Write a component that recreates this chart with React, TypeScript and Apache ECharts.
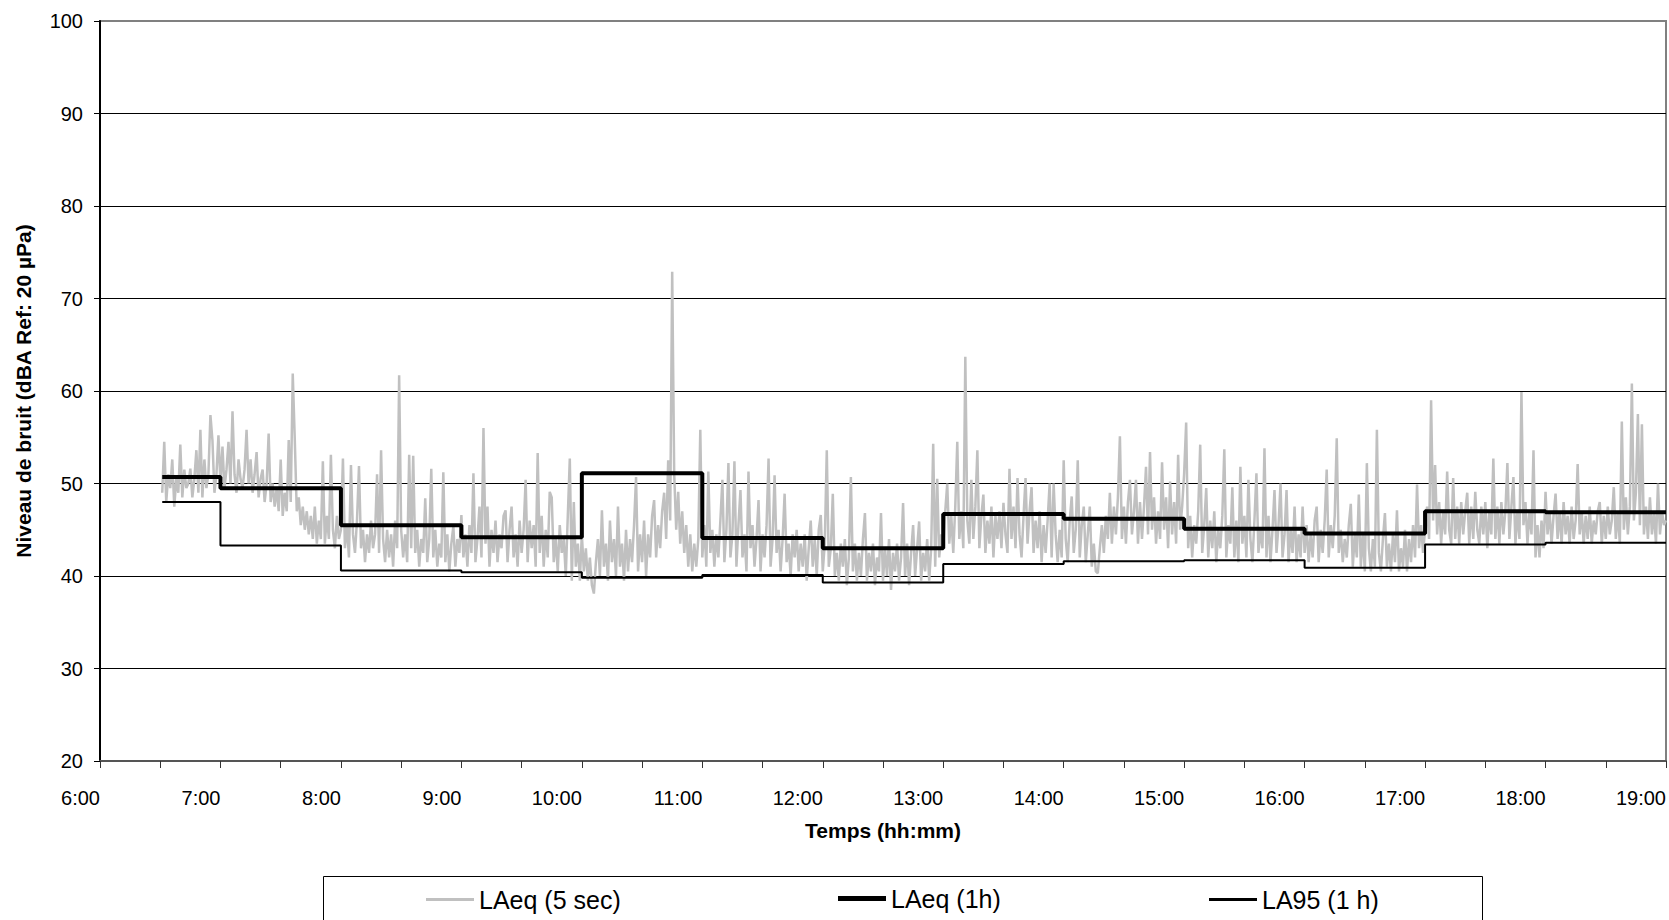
import React, { useEffect, useRef } from "react";
import * as echarts from "echarts";

// x values are minutes since midnight
const hourLabels = ["6:00", "7:00", "8:00", "9:00", "10:00", "11:00", "12:00", "13:00", "14:00", "15:00", "16:00", "17:00", "18:00", "19:00"];

// LAeq (5 sec) trace, one value per minute, grouped by hour
const g0630 = [49.0,54.5,48.0,51.0,49.5,52.6,47.5,50.5,49.0,54.2,48.5,51.5,49.5,50.0,51.6,48.5,50.5,53.6,49.0,55.8,48.5,52.6,49.5,51.0,57.4,54.7,49.0,51.0,55.2];
const g07 = [50.0,54.0,49.5,51.5,54.5,50.0,57.8,51.0,49.0,52.6,
  50.5,49.5,51.5,55.8,50.0,52.6,49.0,51.0,53.4,48.5,
  50.5,51.5,48.0,50.0,55.4,48.0,50.0,47.5,49.5,47.0,
  52.6,46.5,49.0,47.0,54.7,48.0,61.9,54.9,47.0,48.5,
  45.5,47.5,45.0,47.0,44.5,46.5,44.0,47.5,43.5,46.0,
  44.0,52.4,43.5,46.5,44.0,53.1,45.0,43.0,46.5,44.0];
const g08 = [45.0,52.7,43.0,45.5,42.0,52.0,44.5,42.5,46.0,51.9,
  43.0,45.0,41.5,44.5,42.5,46.0,43.0,44.5,51.0,42.5,
  53.6,44.0,41.5,45.0,42.0,44.5,41.0,46.0,43.0,61.7,
  45.0,42.0,44.5,41.5,53.1,43.0,53.0,42.5,45.0,41.0,
  44.0,42.5,48.4,41.5,44.0,51.6,42.0,45.0,41.0,43.5,
  42.0,51.2,41.5,44.5,40.5,43.5,45.4,41.0,44.0,42.5];
const g09 = [46.6,42.0,44.5,41.0,45.5,42.5,51.1,41.5,44.0,47.5,
  42.0,56.0,43.5,47.5,41.0,45.0,42.5,46.0,41.5,44.5,
  43.0,46.5,47.1,41.5,45.0,47.5,42.0,44.5,41.0,46.0,
  42.5,45.0,50.4,41.5,46.0,43.0,45.5,41.0,53.3,42.5,
  46.5,41.0,45.0,42.0,49.1,48.5,41.5,44.0,40.5,45.5,
  42.5,44.0,40.0,46.5,52.7,39.5,48.0,41.0,43.5,39.5];
const g10 = [44.5,40.5,43.0,39.5,42.0,39.0,38.1,41.5,44.0,40.0,
  47.1,41.0,43.5,39.5,46.0,41.5,44.0,40.0,47.5,41.0,
  43.5,39.5,45.0,40.5,44.0,41.5,45.5,50.7,40.5,44.5,
  41.5,46.0,40.0,44.5,42.0,46.5,48.2,42.0,45.5,43.0,
  47.0,49.0,44.0,52.5,46.0,72.9,51.0,45.0,49.1,43.5,
  47.0,42.5,45.5,41.0,44.5,40.5,43.5,41.0,44.0,55.8];
const g11 = [42.0,45.5,41.0,51.3,42.5,45.0,41.0,44.5,42.0,46.0,
  50.4,41.5,45.0,52.2,42.0,44.5,52.4,41.0,45.5,49.3,
  42.0,44.5,40.5,51.3,43.0,45.5,41.0,44.0,48.2,40.5,
  44.5,42.0,45.5,52.7,41.0,44.0,50.9,42.5,45.0,40.5,
  44.0,48.9,41.5,43.5,40.0,44.5,42.0,45.0,40.5,43.5,
  41.0,44.5,39.5,43.0,46.0,41.0,44.0,40.0,45.0,46.6];
const g12 = [40.5,43.5,53.6,41.0,43.0,48.9,40.0,42.5,39.5,43.5,
  41.0,44.0,39.0,42.0,50.7,40.5,43.5,39.5,42.5,40.0,
  44.0,46.8,39.5,42.5,40.5,43.5,39.0,42.0,40.5,46.8,
  39.5,43.0,40.0,44.0,38.5,42.5,40.5,43.5,39.5,42.0,
  47.9,40.0,43.5,39.0,42.5,45.5,40.0,43.0,45.9,39.5,
  42.5,40.5,44.0,39.5,43.0,54.3,41.0,50.5,42.0,44.5];
const g13 = [43.0,47.0,50.0,43.5,46.5,42.5,47.5,54.5,44.0,47.0,
  43.0,63.7,46.0,43.5,50.4,44.0,47.5,53.6,43.0,46.5,
  48.8,42.5,46.0,43.5,47.5,42.0,46.5,44.0,47.0,43.0,
  47.9,44.5,42.5,51.6,44.0,47.5,43.0,50.6,44.5,42.0,
  46.5,50.6,43.5,47.0,49.6,42.5,46.0,43.0,47.0,41.5,
  45.5,42.5,46.0,50.0,42.0,50.0,44.5,41.5,45.0,42.0];
const g14 = [52.5,44.0,41.5,46.0,48.6,42.5,45.0,52.5,42.0,45.5,
  47.5,41.5,44.5,47.5,41.0,43.5,40.5,40.3,43.0,45.5,
  42.5,46.5,44.0,49.0,43.5,47.5,44.5,48.5,55.1,44.0,
  47.5,43.5,48.0,50.4,44.5,47.0,50.4,43.5,48.0,44.0,
  47.5,51.8,44.5,53.4,45.0,48.5,43.5,47.0,44.0,52.3,
  45.0,48.5,43.0,50.2,44.5,48.0,43.5,53.1,45.0,47.5];
const g15 = [51.1,56.6,43.0,46.5,42.0,45.5,43.5,47.0,54.2,42.5,
  45.5,49.5,42.0,46.0,43.0,47.0,41.5,45.0,43.0,46.5,
  53.7,42.0,45.5,43.5,49.6,42.0,46.0,41.5,51.8,43.5,
  46.5,42.0,50.4,44.0,41.5,46.0,51.1,42.5,45.0,43.0,
  53.8,42.0,46.5,41.5,45.0,49.3,42.5,45.5,50.0,42.0,
  44.5,49.3,41.5,45.0,42.5,47.5,41.5,44.5,42.0,47.5];
const g16 = [42.5,45.5,41.5,44.5,42.0,46.0,47.5,41.5,45.0,42.5,
  46.0,51.5,42.0,45.5,43.0,46.5,54.9,42.5,45.0,41.5,
  44.0,42.0,45.5,47.8,41.0,44.5,42.0,48.8,41.0,44.5,
  40.5,52.2,43.0,40.5,44.0,41.0,55.8,42.5,40.5,44.0,
  46.8,41.0,43.5,40.5,44.5,41.5,47.1,40.5,43.0,41.0,
  45.0,40.5,44.0,41.5,45.5,42.0,49.9,43.0,45.5,42.5];
const g17 = [45.0,47.5,44.0,59.0,46.0,52.0,44.5,48.0,43.5,47.0,
  44.5,51.3,45.0,43.5,50.6,44.0,47.5,43.5,48.0,44.5,
  47.0,49.0,43.5,47.5,44.0,49.1,45.0,43.5,47.5,44.5,
  48.0,43.0,47.0,44.5,52.7,44.0,47.5,43.5,48.0,44.5,
  47.0,52.2,44.0,47.5,50.7,43.5,47.0,44.0,59.9,45.5,
  48.0,43.5,47.0,44.5,53.6,42.0,45.5,42.0,46.0,43.0];
const g18 = [49.1,44.5,47.0,43.5,46.5,48.9,44.0,47.0,43.5,48.0,
  44.5,46.5,43.5,47.5,44.0,46.0,52.1,44.5,47.0,43.5,
  46.5,44.0,47.5,43.5,46.0,44.5,47.0,48.0,43.5,46.5,
  44.0,47.5,44.5,46.0,49.6,44.0,47.0,43.5,56.7,45.0,
  48.5,44.5,47.5,60.8,46.0,49.0,57.5,45.5,56.4,44.5,
  47.5,44.0,48.5,44.5,47.0,43.5,50.0,44.5,47.0,45.5,46.0];

const segmentStarts = [391, 420, 480, 540, 600, 660, 720, 780, 840, 900, 960, 1020, 1080];
const segmentValues = [g0630, g07, g08, g09, g10, g11, g12, g13, g14, g15, g16, g17, g18];

// hourly values (start of each period, minutes)
const periodStarts = [391, 420, 480, 540, 600, 660, 720, 780, 840, 900, 960, 1020, 1080];
const periodEnd = 1140;
const laeq1h = [50.7, 49.5, 45.5, 44.2, 51.1, 44.1, 43.0, 46.7, 46.2, 45.1, 44.6, 47.0, 46.9];
const la95 = [48.0, 43.3, 40.6, 40.4, 39.8, 40.1, 39.3, 41.3, 41.6, 41.7, 40.9, 43.4, 43.6];

const seriesNames = ["LAeq (5 sec)", "LAeq (1h)", "LA95 (1 h)"];

const FONT = "'Liberation Sans', Arial, Helvetica, sans-serif";

function stepData(vals: number[]) {
  const d = periodStarts.map((t, i) => [t, vals[i]]);
  d.push([periodEnd, vals[vals.length - 1]]);
  return d;
}

export default function App() {
  const ref = useRef<HTMLDivElement>(null);
  useEffect(() => {
    if (!ref.current) return;
    const chart = echarts.init(ref.current, null, { renderer: "svg" });
    const greyData: number[][] = [];
    segmentValues.forEach((vals, s) => {
      vals.forEach((v, i) => greyData.push([segmentStarts[s] + i, v]));
    });
    const legendBase = {
      top: 886,
      padding: 0,
      itemWidth: 48,
      icon: "rect",
      selectedMode: false,
      textStyle: { fontFamily: FONT, fontSize: 25, color: "#000" },
    };
    chart.setOption({
      animation: false,
      backgroundColor: "#fff",
      textStyle: { fontFamily: FONT },
      grid: {
        left: 100,
        right: 2,
        top: 21,
        bottom: 159,
        show: true,
        borderColor: "#808080",
        borderWidth: 2,
        backgroundColor: "transparent",
      },
      xAxis: {
        type: "value",
        min: 360,
        max: 1140,
        interval: 30,
        name: "Temps (hh:mm)",
        nameLocation: "middle",
        nameGap: 59,
        nameTextStyle: { fontFamily: FONT, fontSize: 21, fontWeight: "bold", color: "#000" },
        axisLine: { show: true, onZero: false, lineStyle: { color: "#555", width: 2 } },
        axisTick: { show: true, length: 7, lineStyle: { color: "#333", width: 1 } },
        splitLine: { show: false },
        axisLabel: {
          fontFamily: FONT,
          fontSize: 20,
          color: "#000",
          margin: 27,
          align: "right",
          showMinLabel: true,
          showMaxLabel: true,
          formatter: (v: number) => (v % 60 === 0 ? hourLabels[(v - 360) / 60] : ""),
        },
      },
      yAxis: {
        type: "value",
        min: 20,
        max: 100,
        interval: 10,
        name: "Niveau de bruit (dBA Ref: 20 µPa)",
        nameLocation: "middle",
        nameGap: 66,
        nameTextStyle: { fontFamily: FONT, fontSize: 21, fontWeight: "bold", color: "#000" },
        axisLine: { show: true, lineStyle: { color: "#000", width: 2 } },
        axisTick: { show: true, length: 6, lineStyle: { color: "#000", width: 1 } },
        splitLine: { show: true, showMinLine: false, showMaxLine: false, lineStyle: { color: "#000", width: 1 } },
        axisLabel: { fontFamily: FONT, fontSize: 20, color: "#000", margin: 17 },
      },
      legend: [
        { ...legendBase, left: 426, top: 887, itemHeight: 3, data: [seriesNames[0]] },
        { ...legendBase, left: 838, top: 886, itemHeight: 5, data: [seriesNames[1]] },
        { ...legendBase, left: 1209, top: 887, itemHeight: 3, data: [seriesNames[2]] },
      ],
      graphic: [
        {
          type: "rect",
          shape: { x: 323.5, y: 876.5, width: 1159, height: 60 },
          style: { fill: "none", stroke: "#000", lineWidth: 1 },
          silent: true,
        },
      ],
      series: [
        {
          name: seriesNames[0],
          type: "line",
          data: greyData,
          symbol: "none",
          color: "#c0c0c0",
          lineStyle: { color: "#c0c0c0", width: 2.5 },
          z: 1,
        },
        {
          name: seriesNames[1],
          type: "line",
          step: "end",
          data: stepData(laeq1h),
          symbol: "none",
          color: "#000",
          lineStyle: { color: "#000", width: 4 },
          z: 3,
        },
        {
          name: seriesNames[2],
          type: "line",
          step: "end",
          data: stepData(la95),
          symbol: "none",
          color: "#000",
          lineStyle: { color: "#000", width: 2 },
          z: 2,
        },
      ],
    });
    return () => chart.dispose();
  }, []);
  return (
    <div
      ref={ref}
      style={{ position: "fixed", left: 0, top: 0, width: 1669, height: 920, background: "#fff" }}
    />
  );
}
